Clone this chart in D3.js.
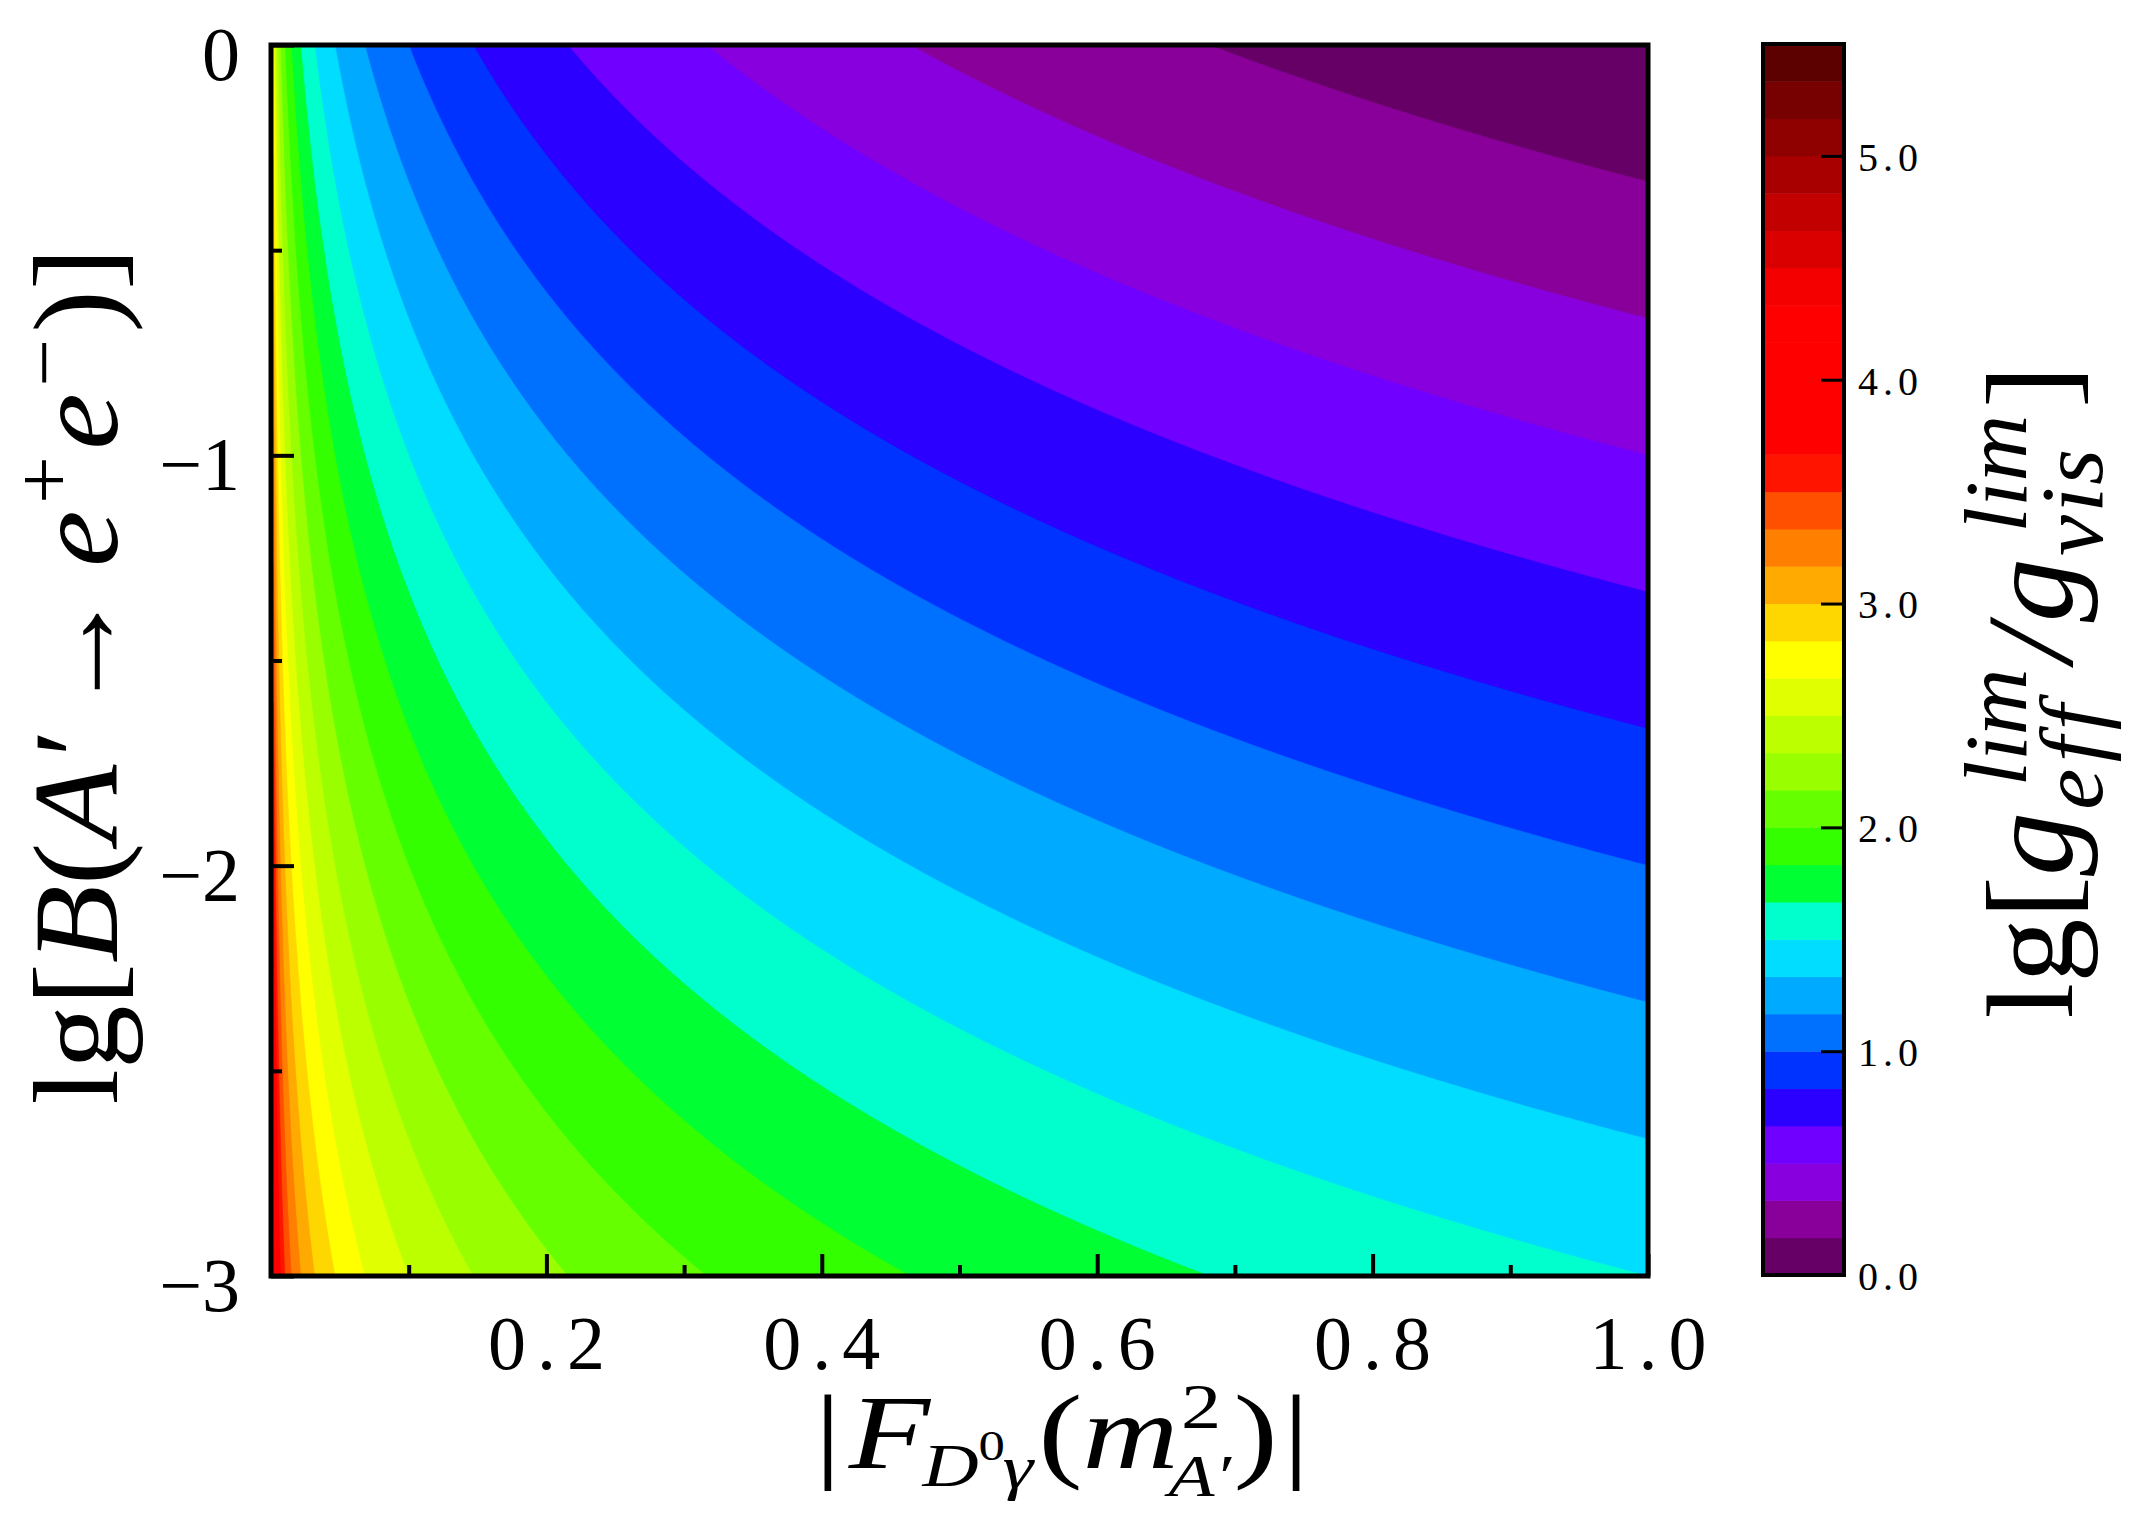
<!DOCTYPE html>
<html><head><meta charset="utf-8">
<script src="https://cdn.jsdelivr.net/npm/d3@7"></script>
<style>
html,body{margin:0;padding:0;background:#fff;}
svg{display:block;}
text{font-family:"Liberation Serif","Times New Roman",serif;fill:#000;}
</style></head><body>
<svg id="chart" width="2139" height="1539"></svg>
<script>
// ---------------- data ----------------
const fDomain = [0, 1];            // |F_{D0 gamma}(m^2_A')|
const lgBDomain = [-3, 0];         // lg[B(A' -> e+e-)]
// surface: lg ratio = slopeF*lg|F| + slopeB*lgB
const slopeF = -1.0;
const slopeB = -0.5;
const fFloor = 0.002;              // smallest |F| sampled at the left edge
const levels = [0,1/6,2/6,3/6,4/6,5/6,1,7/6,8/6,9/6,10/6,11/6,2,13/6,14/6,15/6,16/6,17/6,3,19/6,20/6,21/6,22/6,23/6,4,25/6,26/6,27/6,28/6,29/6,5,31/6,32/6];
const bandColors = ["#660066","#880099","#8800dd","#7000ff","#2b00ff","#0033ff","#0070ff","#00aaff","#00ddff","#00ffcc","#00ff33","#33ff00","#66ff00","#99ff00","#bbff00","#e0ff00","#ffff00","#ffd700","#ffaa00","#ff8000","#ff5000","#ff1400","#ff0000","#ff0000","#ff0000","#ff0000","#f50000","#da0000","#c20000","#a80000","#8f0000","#770000","#5c0000"];
const cbDomain = [0, 5.5];
const xTickValues = [0.2, 0.4, 0.6, 0.8, 1.0];
const xTickLabels = ["0.2", "0.4", "0.6", "0.8", "1.0"];
const xMinorTicks = [0.1, 0.3, 0.5, 0.7, 0.9];
const yTickValues = [0, -1, -2, -3];
const yTickLabels = ["0", "\u22121", "\u22122", "\u22123"];
const yMinorTicks = [-0.5, -1.5, -2.5];
const cbTickValues = [0, 1, 2, 3, 4, 5];
const cbTickLabels = ["0.0", "1.0", "2.0", "3.0", "4.0", "5.0"];

// ---------------- layout ----------------
const W = 2139, H = 1539;
const P = {x0: 271, x1: 1648, y0: 45, y1: 1276};
const CB = {x0: 1763, x1: 1844, y0: 44, y1: 1275};

const svg = d3.select("#chart");
svg.append("rect").attr("width", W).attr("height", H).attr("fill", "#fff");

const x = d3.scaleLinear().domain(fDomain).range([P.x0, P.x1]);
const y = d3.scaleLinear().domain(lgBDomain).range([P.y1, P.y0]);

// ---------------- grid + contours ----------------
const nx = Math.round(P.x1 - P.x0), ny = 250;
const values = new Float64Array(nx * ny);
for (let j = 0; j < ny; j++) {
  const lgB = lgBDomain[1] - (lgBDomain[1] - lgBDomain[0]) * (j + 0.5) / ny;
  for (let i = 0; i < nx; i++) {
    const F = fDomain[0] + (fDomain[1] - fDomain[0]) * (i + 0.5) / nx;
    values[j * nx + i] = slopeF * Math.log10(Math.max(F, fFloor)) + slopeB * lgB;
  }
}
const contours = d3.contours().size([nx, ny]).thresholds(levels)(values);
const gx = d3.scaleLinear().domain([0, nx]).range(fDomain);
const gy = d3.scaleLinear().domain([0, ny]).range([lgBDomain[1], lgBDomain[0]]);
const proj = d3.geoTransform({point: function(px, py) { this.stream.point(x(gx(px)), y(gy(py))); }});
const path = d3.geoPath(proj);

svg.append("clipPath").attr("id", "clip").append("rect")
  .attr("x", P.x0).attr("y", P.y0).attr("width", P.x1 - P.x0).attr("height", P.y1 - P.y0);
const cg = svg.append("g").attr("clip-path", "url(#clip)");
cg.selectAll("path").data(contours).join("path")
  .attr("d", path)
  .attr("fill", (d, i) => bandColors[i])
  .attr("stroke", (d, i) => bandColors[i])
  .attr("stroke-width", 0.6);

// ---------------- axes ----------------
const axX = svg.append("g").attr("transform", `translate(0,${P.y1})`)
  .call(d3.axisBottom(x).tickValues(xTickValues).tickSizeInner(-22).tickSizeOuter(0)
    .tickPadding(0).tickFormat((d, i) => xTickLabels[i]));
const axXm = svg.append("g").attr("transform", `translate(0,${P.y1})`)
  .call(d3.axisBottom(x).tickValues(xMinorTicks).tickSizeInner(-11).tickSizeOuter(0).tickFormat(""));
const axY = svg.append("g").attr("transform", `translate(${P.x0},0)`)
  .call(d3.axisLeft(y).tickValues(yTickValues).tickSizeInner(-23).tickSizeOuter(0)
    .tickPadding(0).tickFormat((d, i) => yTickLabels[i]));
const axYm = svg.append("g").attr("transform", `translate(${P.x0},0)`)
  .call(d3.axisLeft(y).tickValues(yMinorTicks).tickSizeInner(-11).tickSizeOuter(0).tickFormat(""));
[axX, axXm, axY, axYm].forEach(a => {
  a.select(".domain").remove();
  a.selectAll(".tick line").attr("stroke", "#000").attr("stroke-width", 4);
});
axX.selectAll(".tick text").attr("y", 93).attr("dy", null)
  .style("font-size", "76px").style("letter-spacing", "11px")
  .attr("text-anchor", "middle").attr("dx", "5px");
axY.selectAll(".tick text").attr("x", -31).attr("dy", "0.36em").attr("y", 7)
  .style("font-size", "76px").attr("text-anchor", "end");

// frame
svg.append("rect").attr("x", P.x0).attr("y", P.y0).attr("width", P.x1 - P.x0).attr("height", P.y1 - P.y0)
  .attr("fill", "none").attr("stroke", "#000").attr("stroke-width", 5);

// ---------------- colorbar ----------------
const cb = d3.scaleLinear().domain(cbDomain).range([CB.y1, CB.y0]);
const bands = levels.map((lv, i) => ({lo: lv, hi: i + 1 < levels.length ? levels[i + 1] : cbDomain[1], c: bandColors[i]}));
svg.append("g").selectAll("rect").data(bands).join("rect")
  .attr("x", CB.x0).attr("width", CB.x1 - CB.x0)
  .attr("y", d => cb(d.hi)).attr("height", d => cb(d.lo) - cb(d.hi) + 0.5)
  .attr("fill", d => d.c);
const axC = svg.append("g").attr("transform", `translate(${CB.x1},0)`)
  .call(d3.axisRight(cb).tickValues(cbTickValues).tickSizeInner(-23).tickSizeOuter(0)
    .tickPadding(0).tickFormat((d, i) => cbTickLabels[i]));
axC.select(".domain").remove();
axC.selectAll(".tick line").attr("stroke", "#000").attr("stroke-width", 3);
axC.selectAll(".tick text").attr("x", 14).attr("dy", "0.36em")
  .style("font-size", "40px").style("letter-spacing", "5px");
svg.append("rect").attr("x", CB.x0).attr("y", CB.y0).attr("width", CB.x1 - CB.x0).attr("height", CB.y1 - CB.y0)
  .attr("fill", "none").attr("stroke", "#000").attr("stroke-width", 4);

// ---------------- math labels ----------------
// builds a label from pieces, then fits it to the given length along the text
function mathText(parent, pieces, target) {
  const g = parent.append("g");
  let cx = 0;
  function put(q, x0) {
    const t = g.append("text").attr("x", x0 + (q.dx || 0)).attr("y", q.dy || 0)
      .style("font-size", q.size + "px").style("font-style", q.it ? "italic" : "normal")
      .style("letter-spacing", (q.ls || 0) + "px").text(q.t);
    return t.node().getComputedTextLength() + (q.dx || 0);
  }
  pieces.forEach(p => {
    if (p.stack) {
      let w = 0;
      p.stack.forEach(q => { w = Math.max(w, put(q, cx)); });
      cx += w + (p.gap || 0);
    } else {
      cx += put(p, cx) + (p.gap || 0);
    }
  });
  const s = target ? target / cx : 1;
  g.attr("transform", `translate(${-cx * s / 2},0) scale(${s},1)`);
  return cx;
}

// x label
const xl = svg.append("g").attr("transform", "translate(1062,1468)");
mathText(xl, [
  {t: "|", size: 106, gap: 6},
  {t: "F", size: 106, it: true, gap: -6},
  {t: "D", size: 62, it: true, dy: 18},
  {t: "0", size: 42, dy: -8, gap: -2},
  {t: "\u03b3", size: 62, it: true, dy: 20, gap: 4},
  {t: "(", size: 106},
  {t: "m", size: 106, it: true},
  {stack: [{t: "2", size: 64, dy: -40, dx: 2}, {t: "A\u2032", size: 60, it: true, dy: 28, dx: -8}], gap: 2},
  {t: ")", size: 106, gap: 4},
  {t: "|", size: 106}
], 495);

// y label
const yl = svg.append("g").attr("transform", "translate(117,676) rotate(-90)");
mathText(yl, [
  {t: "lg[", size: 120},
  {t: "B", size: 120, it: true},
  {t: "(", size: 120},
  {t: "A\u2032", size: 120, it: true, gap: 20},
  {t: "\u2192", size: 120, gap: 20},
  {t: "e", size: 120, it: true, gap: 6},
  {t: "+", size: 80, dy: -46, gap: 6},
  {t: "e", size: 120, it: true, gap: 6},
  {t: "\u2212", size: 80, dy: -46, gap: 6},
  {t: ")]", size: 120}
], 857);

// colorbar label
const cl = svg.append("g").attr("transform", "translate(2072,692) rotate(-90)");
mathText(cl, [
  {t: "lg[", size: 122},
  {t: "g", size: 122, it: true, gap: 2},
  {stack: [{t: "lim", size: 88, it: true, dy: -46, dx: 22}, {t: "eff", size: 88, it: true, dy: 30, ls: 6}], gap: 6},
  {t: "/", size: 122, it: true, gap: 4},
  {t: "g", size: 122, it: true, gap: 2},
  {stack: [{t: "lim", size: 88, it: true, dy: -46, dx: 22}, {t: "vis", size: 88, it: true, dy: 30, ls: 2}], gap: 6},
  {t: "]", size: 122}
], 653);
</script></body></html>
